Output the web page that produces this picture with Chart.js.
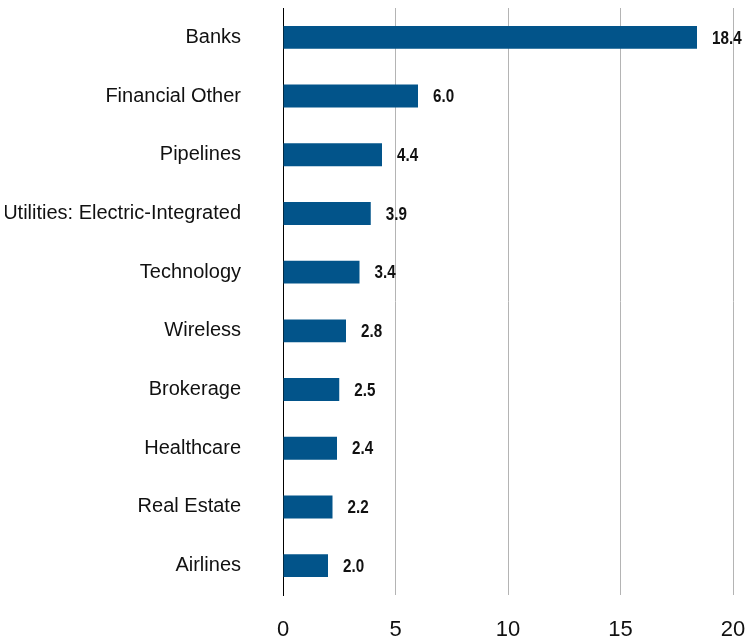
<!DOCTYPE html>
<html>
<head>
<meta charset="utf-8">
<script src="https://cdn.jsdelivr.net/npm/chart.js@4/dist/chart.umd.min.js"></script>
<style>
  html, body { margin: 0; padding: 0; background: #fff; }
  #wrap { width: 747px; height: 642px; }
</style>
</head>
<body>
<div id="wrap"><canvas id="myChart"></canvas></div>
<script>
// Sectores y valores
const sectores = ['Banks', 'Financial Other', 'Pipelines', 'Utilities: Electric-Integrated', 'Technology',
  'Wireless', 'Brokerage', 'Healthcare', 'Real Estate', 'Airlines'];
const valores = [18.4, 6.0, 4.4, 3.9, 3.4, 2.8, 2.5, 2.4, 2.2, 2.0];
const ticksX = [0, 5, 10, 15, 20];

const fuente = "'Liberation Sans', Arial, sans-serif";

// Etiquetas de valor al final de cada barra (texto estrecho)
const etiquetas = {
  id: 'etiquetas',
  afterDatasetsDraw(chart) {
    const ctx = chart.ctx;
    const meta = chart.getDatasetMeta(0);
    meta.data.forEach((bar, i) => {
      ctx.save();
      ctx.font = 'bold 19px ' + fuente;
      ctx.fillStyle = '#111';
      ctx.textBaseline = 'middle';
      ctx.textAlign = 'left';
      ctx.translate(bar.x + 15, bar.y + 1);
      ctx.scale(0.8, 1);
      ctx.fillText(valores[i].toFixed(1), 0, 0);
      ctx.restore();
    });
  }
};

const ctx = document.getElementById('myChart').getContext('2d');
new Chart(ctx, {
  type: 'bar',
  data: {
    labels: sectores,
    datasets: [{
      data: valores,
      backgroundColor: '#02548a',
      borderWidth: 0,
      categoryPercentage: 1,
      barPercentage: 0.39
    }]
  },
  options: {
    indexAxis: 'y',
    responsive: true,
    maintainAspectRatio: false,
    animation: false,
    layout: { padding: { top: 8, left: 5, right: 14, bottom: 0 } },
    plugins: {
      legend: { display: false },
      tooltip: { enabled: false }
    },
    scales: {
      x: {
        min: 0,
        max: 20,
        afterBuildTicks: axis => { axis.ticks = ticksX.map(v => ({ value: v })); },
        afterFit: scale => { scale.paddingLeft = 0; scale.paddingRight = 0; scale.height = 47; },
        border: { display: false },
        grid: {
          drawTicks: false,
          color: c => c.tick && c.tick.value === 0 ? 'rgba(0,0,0,0)' : '#b4b4b4',
          lineWidth: 1
        },
        ticks: {
          padding: 22,
          maxRotation: 0,
          minRotation: 0,
          color: '#111',
          font: { family: fuente, size: 22 }
        }
      },
      y: {
        border: { display: true, color: '#000', width: 1 },
        grid: { display: false, drawTicks: false },
        afterFit: scale => { scale.width = 278; scale.paddingTop = 0; scale.paddingBottom = 0; },
        ticks: {
          padding: 42,
          color: '#111',
          font: { family: fuente, size: 20 }
        }
      }
    }
  },
  plugins: [etiquetas]
});
</script>
</body>
</html>
